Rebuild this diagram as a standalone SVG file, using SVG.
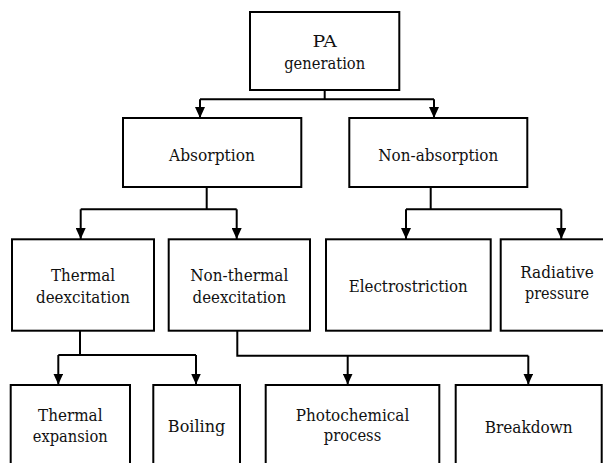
<svg xmlns="http://www.w3.org/2000/svg" width="603" height="463" viewBox="0 0 603 463">
<style>
.box{fill:#fff;stroke:#000;stroke-width:2}
.c{fill:none;stroke:#000;stroke-width:2}
.t{font-family:'DejaVu Serif','Liberation Serif','Times New Roman',serif;font-size:17.5px;fill:#111;text-anchor:middle}
</style>
<defs>
<marker id="ah" markerUnits="userSpaceOnUse" markerWidth="12" markerHeight="10" refX="11" refY="5" orient="auto">
<path d="M0,0 L11,5 L0,10 Z" fill="#000"/>
</marker>
</defs>
<rect width="603" height="463" fill="#fff"/>
<g id="connectors">
<path class="c" d="M324.7,90 V99.3 M200,99.3 H434" />
<path class="c" d="M200,99.3 V118" marker-end="url(#ah)"/>
<path class="c" d="M434,99.3 V118" marker-end="url(#ah)"/>
<path class="c" d="M206.7,187 V209.3 M80.7,209.3 H236.7"/>
<path class="c" d="M80.7,209.3 V239" marker-end="url(#ah)"/>
<path class="c" d="M236.7,209.3 V239" marker-end="url(#ah)"/>
<path class="c" d="M430.7,187 V209.3 M406,209.3 H561.3"/>
<path class="c" d="M406,209.3 V239" marker-end="url(#ah)"/>
<path class="c" d="M561.3,209.3 V239" marker-end="url(#ah)"/>
<path class="c" d="M80,331 V355 M58.3,355 H196"/>
<path class="c" d="M58.3,355 V384.5" marker-end="url(#ah)"/>
<path class="c" d="M196,355 V384.5" marker-end="url(#ah)"/>
<path class="c" d="M237.3,331 V355.7 H528.3"/>
<path class="c" d="M347.7,355.7 V384.5" marker-end="url(#ah)"/>
<path class="c" d="M528.3,355.7 V384.5" marker-end="url(#ah)"/>
</g>
<g id="pa"><rect class="box" x="250" y="12" width="149.3" height="78"/><text class="t" x="324.7" y="46.7" textLength="24.5" lengthAdjust="spacingAndGlyphs">PA</text><text class="t" x="324.7" y="69" textLength="81" lengthAdjust="spacingAndGlyphs">generation</text></g>
<g id="absorption"><rect class="box" x="123" y="118" width="178.3" height="69"/><text class="t" x="212" y="161" textLength="86" lengthAdjust="spacingAndGlyphs">Absorption</text></g>
<g id="nonabsorption"><rect class="box" x="349.3" y="118" width="178" height="69"/><text class="t" x="438.3" y="161" textLength="120" lengthAdjust="spacingAndGlyphs">Non-absorption</text></g>
<g id="thermal"><rect class="box" x="12" y="239.3" width="142" height="91.4"/><text class="t" x="83" y="281" textLength="64" lengthAdjust="spacingAndGlyphs">Thermal</text><text class="t" x="83" y="302.7" textLength="94" lengthAdjust="spacingAndGlyphs">deexcitation</text></g>
<g id="nonthermal"><rect class="box" x="168.7" y="239.3" width="141.3" height="91.4"/><text class="t" x="239.3" y="281" textLength="98" lengthAdjust="spacingAndGlyphs">Non-thermal</text><text class="t" x="239.3" y="302.7" textLength="93.5" lengthAdjust="spacingAndGlyphs">deexcitation</text></g>
<g id="electrostriction"><rect class="box" x="326" y="239.3" width="164.7" height="91.4"/><text class="t" x="408.3" y="291.7" textLength="119" lengthAdjust="spacingAndGlyphs">Electrostriction</text></g>
<g id="radiative"><rect class="box" x="500.7" y="239.3" width="110" height="91.4"/><text class="t" x="557" y="277.7" textLength="73.5" lengthAdjust="spacingAndGlyphs">Radiative</text><text class="t" x="557" y="299" textLength="64" lengthAdjust="spacingAndGlyphs">pressure</text></g>
<g id="thermalexpansion"><rect class="box" x="10.7" y="385" width="119.3" height="90"/><text class="t" x="70.3" y="421" textLength="64.5" lengthAdjust="spacingAndGlyphs">Thermal</text><text class="t" x="70.3" y="441.7" textLength="75" lengthAdjust="spacingAndGlyphs">expansion</text></g>
<g id="boiling"><rect class="box" x="153.3" y="385" width="86.7" height="90"/><text class="t" x="196.6" y="431.7" textLength="57.5" lengthAdjust="spacingAndGlyphs">Boiling</text></g>
<g id="photochemical"><rect class="box" x="265.7" y="385" width="173.6" height="90"/><text class="t" x="352.5" y="421" textLength="113.5" lengthAdjust="spacingAndGlyphs">Photochemical</text><text class="t" x="352.5" y="441" textLength="57.5" lengthAdjust="spacingAndGlyphs">process</text></g>
<g id="breakdown"><rect class="box" x="455.7" y="385" width="146" height="90"/><text class="t" x="528.7" y="433.3" textLength="88" lengthAdjust="spacingAndGlyphs">Breakdown</text></g>
</svg>
